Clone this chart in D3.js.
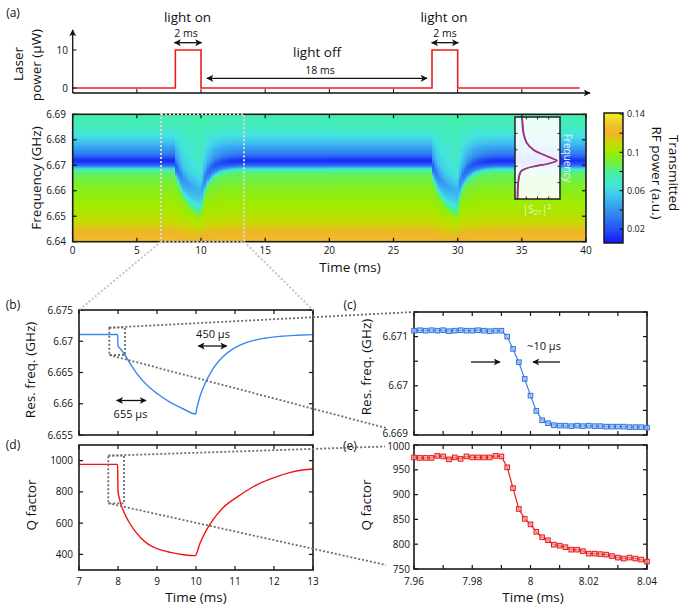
<!DOCTYPE html>
<html><head><meta charset="utf-8">
<script src="https://cdn.jsdelivr.net/npm/d3@7/dist/d3.min.js"></script>
<style>
body{margin:0;background:#fff;}
svg{display:block;font-family:"Open Sans",sans-serif;}
</style></head><body>
<svg id="chart" width="692" height="613"></svg>
<script>
// ---------------- DATA ----------------
// (a) laser pulse train
const laserTime  = [0, 8, 8, 10, 10, 28, 28, 30, 30, 39.5];
const laserPower = [0, 0, 10, 10, 0, 0, 10, 10, 0, 0];
const laserTicks = [0, 10];
const timeTicks  = [0, 5, 10, 15, 20, 25, 30, 35, 40];
const freqTicks  = [6.64, 6.65, 6.66, 6.67, 6.68, 6.69];
const freqTickLabels = ["6.64", "6.65", "6.66", "6.67", "6.68", "6.69"];

// heatmap: spectral line shape (offset in MHz from resonance -> relative dip depth)
const profOffset = [-30, -10, -7, -5, -4, -3.3, -2.7, -2, -1.3, -0.6, 0, 0.6, 1.3, 2, 3.2, 4, 5.2, 6.5, 7.8, 9, 10.4, 13, 16, 20, 40];
const profDepth  = [0, 0.03, 0.07, 0.1, 0.14, 0.32, 0.55, 0.78, 0.9, 0.97, 1, 0.96, 0.86, 0.76, 0.63, 0.56, 0.48, 0.38, 0.3, 0.24, 0.19, 0.12, 0.08, 0.05, 0];
// heatmap: off-resonance background power vs frequency
const bgFreq  = [6.64, 6.6446, 6.6498, 6.6564, 6.6629, 6.6681, 6.6721, 6.6753, 6.68, 6.685, 6.69];
const bgPower = [0.126, 0.118, 0.108, 0.101, 0.095, 0.092, 0.088, 0.084, 0.081, 0.081, 0.082];
const heatRestFreq = 6.6721;
const dipDepth = 0.077;

// colour map
const cmapValue = [0.005, 0.02, 0.04, 0.055, 0.065, 0.078, 0.09, 0.1, 0.11, 0.12, 0.128, 0.141];
const cmapColor = ["#1010ff", "#2452f4", "#3494f0", "#40c4f0", "#42e4dc", "#44f0a8", "#72f03c", "#9cec00", "#c4dc00", "#f0b428", "#f0c02a", "#eef020"];
const cbarTickLabels = [0.02, 0.06, 0.1, 0.14];
const cbarTicks = [0.02, 0.04, 0.06, 0.08, 0.1, 0.12, 0.14];

// inset |S21|^2 curve (freq fraction top->bottom, amplitude fraction)
const insetFreq = [0.0, 0.012, 0.196, 0.318, 0.4, 0.461, 0.502, 0.531, 0.563, 0.596, 0.624, 0.665, 0.767, 1.0];
const insetAmp  = [0.14, 0.15, 0.185, 0.26, 0.407, 0.63, 0.815, 0.926, 0.778, 0.48, 0.26, 0.126, 0.074, 0.052];

// (b) resonance frequency
const bTime = [7.0, 7.5, 7.99, 8.0, 8.05, 8.18, 8.31, 8.48, 8.74, 9.02, 9.34, 9.68, 9.99, 10.02, 10.1, 10.19, 10.32, 10.49, 10.71, 10.97, 11.31, 11.74, 12.17, 12.6, 13.0];
const bFreq = [6.67107, 6.67107, 6.67107, 6.66924, 6.66887, 6.6678, 6.66647, 6.66487, 6.663, 6.66156, 6.66023, 6.65916, 6.65836, 6.65927, 6.66113, 6.66263, 6.66433, 6.66609, 6.66764, 6.66887, 6.66983, 6.67047, 6.67079, 6.67096, 6.67107];
// (d) Q factor
const dTime = [7.0, 7.5, 7.99, 8.0, 8.05, 8.14, 8.27, 8.4, 8.57, 8.78, 9.02, 9.34, 9.68, 9.98, 10.1, 10.27, 10.44, 10.7, 11.04, 11.38, 11.72, 12.06, 12.4, 12.74, 13.0];
const dQ    = [976, 976, 976, 808, 743, 677, 612, 562, 510, 464, 435, 413, 398, 392, 470, 557, 623, 700, 765, 820, 864, 896, 923, 940, 946];

// (c), (e) zoomed measurements
const zTime = [7.960, 7.962, 7.964, 7.966, 7.968, 7.970, 7.972, 7.974, 7.976, 7.978, 7.980, 7.982, 7.984, 7.986, 7.988, 7.990,
               7.992, 7.994, 7.996, 7.998, 8.000, 8.002, 8.004, 8.006, 8.008, 8.010, 8.012, 8.014, 8.016, 8.018, 8.020,
               8.022, 8.024, 8.026, 8.028, 8.030, 8.032, 8.034, 8.036, 8.038, 8.040];
const cFreq = [6.67112, 6.67113, 6.67112, 6.67113, 6.67112, 6.67113, 6.67111, 6.67112, 6.67113, 6.67112, 6.67112, 6.67113, 6.67112, 6.67111, 6.67112, 6.67112,
               6.67100, 6.67075, 6.67048, 6.67014, 6.66980, 6.66949, 6.66930, 6.66924, 6.66920,
               6.66919, 6.66919, 6.66918, 6.66919, 6.66918, 6.66919, 6.66918, 6.66918, 6.66917, 6.66917, 6.66917, 6.66917, 6.66916, 6.66916, 6.66916, 6.66915];
const eQ = [975, 974, 974, 974, 978, 977, 971, 975, 972, 977, 975, 975, 975, 975, 978, 977,
            955, 913, 871, 851, 840, 825, 814, 808, 799, 797, 794, 789, 789, 786, 781, 781, 780, 779, 776, 773, 771, 773, 771, 769, 765];

// ---------------- DRAWING ----------------
const svg = d3.select("#chart");
const defs = svg.append("defs");
defs.append("marker").attr("id", "ah").attr("viewBox", "0 0 10 10").attr("refX", 9).attr("refY", 5)
  .attr("markerWidth", 7).attr("markerHeight", 7).attr("markerUnits", "userSpaceOnUse")
  .attr("orient", "auto-start-reverse")
  .append("path").attr("d", "M0,0 L10,5 L0,10 L2.5,5 Z").attr("fill", "#111");
defs.append("clipPath").attr("id", "hclip").append("rect")
  .attr("x", 72.7).attr("y", 114.3).attr("width", 586 - 72.7).attr("height", 241.7 - 114.3);

function txt(x, y, s, size, anchor, opts = {}) {
  const t = svg.append("text").attr("x", x).attr("y", y).attr("font-size", size)
    .attr("text-anchor", anchor || "middle").attr("fill", opts.fill || "#111").text(s);
  if (opts.rot) t.attr("transform", `rotate(${opts.rot},${x},${y})`);
  return t;
}
function arrow(x1, y1, x2, y2, both) {
  const l = svg.append("line").attr("x1", x1).attr("y1", y1).attr("x2", x2).attr("y2", y2)
    .attr("stroke", "#111").attr("stroke-width", 1.3).attr("marker-end", "url(#ah)");
  if (both) l.attr("marker-start", "url(#ah)");
}

// ---- (a) laser ----
const xH = d3.scaleLinear([0, 40], [72.7, 586]);
const yL = d3.scaleLinear([0, 10], [88, 50]);
svg.append("path").attr("d", d3.line().x((d, i) => xH(laserTime[i])).y(d => yL(d))(laserPower))
  .attr("fill", "none").attr("stroke", "#ee1c1c").attr("stroke-width", 1.6);
svg.append("line").attr("x1", 72.7).attr("y1", 93).attr("x2", 590).attr("y2", 93)
  .attr("stroke", "#111").attr("stroke-width", 1.3).attr("marker-end", "url(#ah)");
svg.append("line").attr("x1", 72.7).attr("y1", 93).attr("x2", 72.7).attr("y2", 30)
  .attr("stroke", "#111").attr("stroke-width", 1.3).attr("marker-end", "url(#ah)");
timeTicks.slice(1, -1).forEach(t => svg.append("line").attr("x1", xH(t)).attr("x2", xH(t)).attr("y1", 93).attr("y2", 89).attr("stroke", "#111").attr("stroke-width", 1));
laserTicks.forEach(v => {
  svg.append("line").attr("x1", 72.7).attr("x2", 76.5).attr("y1", yL(v)).attr("y2", yL(v)).attr("stroke", "#111");
  txt(68, yL(v) + 3.5, String(v), 10, "end");
});
txt(23, 64, "Laser", 13.5, "middle", {rot: -90});
txt(41, 65, "power (µW)", 13.5, "middle", {rot: -90});
txt(187.5, 21.5, "light on", 13.5);
txt(186, 37, "2 ms", 10.5);
arrow(174.5, 42.7, 201.5, 42.7, true);
txt(444, 21.5, "light on", 13.5);
txt(445, 37, "2 ms", 10.5);
arrow(431.7, 42.7, 458.3, 42.7, true);
txt(317, 57, "light off", 13.5);
txt(320, 73.5, "18 ms", 10.5);
arrow(207, 78.3, 427, 78.3, true);
txt(13, 17, "(a)", 12);

// ---- heatmap ----
const yH = d3.scaleLinear([6.64, 6.69], [241.7, 114.3]);
const cmap = d3.scaleLinear(cmapValue, cmapColor).clamp(true).interpolate(d3.interpolateRgb);
const bScale = d3.scaleLinear(bTime, bFreq).clamp(true);
const qScale = d3.scaleLinear(dTime, dQ).clamp(true);
const profScale = d3.scaleLinear(profOffset, profDepth).clamp(true);
const bgScale = d3.scaleLinear(bgFreq, bgPower).clamp(true);
const restFreq = bFreq[0], restQ = dQ[0];
const dt = 0.125, df = 0.0004;
const cells = [];
for (let t = 0; t < 40 - 1e-9; t += dt) {
  const tc = t + dt / 2;
  const tl = tc >= 20 ? tc - 20 : tc;
  const shift = bScale(tl) - restFreq;
  const Q = qScale(tl);
  const w = restQ / Q;
  const wUp = Math.pow(w, 0.7), wLow = Math.pow(w, 1.1);
  const f0 = heatRestFreq + shift;
  const depth = dipDepth * Math.sqrt(Q / restQ);
  for (let f = 6.64; f < 6.69 - 1e-9; f += df) {
    const fc = f + df / 2;
    const off = (fc - f0) * 1000;
    const xo = off >= 0 ? off / wUp : off / wLow;
    cells.push({t, f, v: bgScale(fc) - depth * profScale(xo)});
  }
}
const cw = xH(dt) - xH(0) + 0.5, ch = yH(6.64) - yH(6.64 + df) + 0.5;
svg.append("g").attr("clip-path", "url(#hclip)").selectAll("rect").data(cells).join("rect")
  .attr("x", d => xH(d.t)).attr("y", d => yH(d.f + df)).attr("width", cw).attr("height", ch)
  .attr("fill", d => cmap(d.v)).attr("shape-rendering", "crispEdges");

// frame + ticks helper
function frame(x0, x1, y0, y1, xs, ys, xt, yt, tl) {
  const g = svg.append("g");
  xt.forEach(v => {
    g.append("line").attr("x1", xs(v)).attr("x2", xs(v)).attr("y1", y1).attr("y2", y1 - tl).attr("stroke", "#111").attr("stroke-width", 1.2);
    g.append("line").attr("x1", xs(v)).attr("x2", xs(v)).attr("y1", y0).attr("y2", y0 + tl).attr("stroke", "#111").attr("stroke-width", 1.2);
  });
  yt.forEach(v => {
    g.append("line").attr("x1", x0).attr("x2", x0 + tl).attr("y1", ys(v)).attr("y2", ys(v)).attr("stroke", "#111").attr("stroke-width", 1.2);
    g.append("line").attr("x1", x1).attr("x2", x1 - tl).attr("y1", ys(v)).attr("y2", ys(v)).attr("stroke", "#111").attr("stroke-width", 1.2);
  });
  g.append("rect").attr("x", x0).attr("y", y0).attr("width", x1 - x0).attr("height", y1 - y0)
    .attr("fill", "none").attr("stroke", "#1a1a1a").attr("stroke-width", 1.6);
}
frame(72.7, 586, 114.3, 241.7, xH, yH, timeTicks, freqTicks, 4);
timeTicks.forEach(t => txt(xH(t), 254, String(t), 10));
freqTicks.forEach((f, i) => txt(66, yH(f) + 3.5, freqTickLabels[i], 10, "end"));
txt(41, 178, "Frequency (GHz)", 13.5, "middle", {rot: -90});
txt(350, 272, "Time (ms)", 13.5);

// inset
const xI = d3.scaleLinear([0, 1], [515, 560]);
const yI = d3.scaleLinear([0, 1], [117, 199]);
svg.append("rect").attr("x", 515).attr("y", 117).attr("width", 45).attr("height", 82).attr("fill", "#ffffff").attr("fill-opacity", 0.9);
const insetLine = d3.line().curve(d3.curveCatmullRom).x((d, i) => xI(insetAmp[i])).y(d => yI(d));
svg.append("path").attr("d", insetLine(insetFreq)).attr("fill", "none").attr("stroke", "#3050e0").attr("stroke-width", 1.6);
svg.append("path").attr("d", insetLine(insetFreq)).attr("fill", "none").attr("stroke", "#e8203a").attr("stroke-width", 1.1).attr("transform", "translate(0.6,0)");
[0.2, 0.4, 0.6, 0.8].forEach(v => {
  svg.append("line").attr("x1", 560).attr("x2", 557.5).attr("y1", yI(v)).attr("y2", yI(v)).attr("stroke", "#222");
  svg.append("line").attr("x1", 515).attr("x2", 517.5).attr("y1", yI(v)).attr("y2", yI(v)).attr("stroke", "#222");
});
[0.25, 0.5, 0.75].forEach(v => {
  svg.append("line").attr("x1", xI(v)).attr("x2", xI(v)).attr("y1", 199).attr("y2", 196.5).attr("stroke", "#222");
  svg.append("line").attr("x1", xI(v)).attr("x2", xI(v)).attr("y1", 117).attr("y2", 119.5).attr("stroke", "#222");
});
svg.append("rect").attr("x", 515).attr("y", 117).attr("width", 45).attr("height", 82).attr("fill", "none").attr("stroke", "#222").attr("stroke-width", 1.5);
txt(564, 158, "Frequency", 10, "middle", {rot: 90, fill: "#f4f4ff"});
const s21 = svg.append("text").attr("x", 537).attr("y", 213).attr("font-size", 10).attr("text-anchor", "middle").attr("fill", "#f6f6d0");
s21.append("tspan").text("|S");
s21.append("tspan").attr("font-size", 7).attr("dy", 2).text("21");
s21.append("tspan").attr("dy", -2).text("|");
s21.append("tspan").attr("font-size", 7).attr("dy", -4).text("2");

// colorbar
const yC = d3.scaleLinear([0.00539, 0.14104], [243, 113]);
const cbVals = d3.range(0.00539, 0.14104, 0.001);
svg.append("g").selectAll("rect").data(cbVals).join("rect")
  .attr("x", 604).attr("width", 19).attr("y", d => yC(d + 0.001)).attr("height", yC(0) - yC(0.001) + 0.4)
  .attr("fill", d => cmap(d + 0.0005)).attr("shape-rendering", "crispEdges");
cbarTicks.forEach(v => svg.append("line").attr("x1", 623).attr("x2", 619.5).attr("y1", yC(v)).attr("y2", yC(v)).attr("stroke", "#111").attr("stroke-width", 1.1));
svg.append("rect").attr("x", 604).attr("y", 113).attr("width", 19).attr("height", 130).attr("fill", "none").attr("stroke", "#1a1a1a").attr("stroke-width", 1.5);
cbarTickLabels.forEach(v => txt(627, yC(v) + 3.2, String(v), 9, "start"));
txt(669, 173, "Transmitted", 13.5, "middle", {rot: 90});
txt(652, 173, "RF power (a.u.)", 13.5, "middle", {rot: 90});

// ---- (b) ----
const xB = d3.scaleLinear([7, 13], [79, 313]);
const yB = d3.scaleLinear([6.655, 6.675], [435, 310]);
const bYT = [6.655, 6.66, 6.665, 6.67, 6.675], bYL = ["6.655", "6.66", "6.665", "6.67", "6.675"];
const xBT = [7, 8, 9, 10, 11, 12, 13];
svg.append("path").attr("d", d3.line().curve(d3.curveMonotoneX).x((d, i) => xB(bTime[i])).y(d => yB(d))(bFreq))
  .attr("fill", "none").attr("stroke", "#3a86f0").attr("stroke-width", 1.4);
frame(79, 313, 310, 435, xB, yB, xBT, bYT, 4);
bYT.forEach((v, i) => txt(73, yB(v) + 3.5, bYL[i], 10, "end"));
txt(35, 370, "Res. freq. (GHz)", 13.5, "middle", {rot: -90});
txt(213, 338, "450 µs", 11);
arrow(198.3, 346, 226.7, 346, true);
txt(130.5, 418, "655 µs", 11);
arrow(116.7, 400.5, 146, 400.5, true);
txt(13, 309, "(b)", 12);

// ---- (d) ----
const yD = d3.scaleLinear([300, 1100], [570, 445]);
const dYT = [400, 600, 800, 1000];
svg.append("path").attr("d", d3.line().curve(d3.curveMonotoneX).x((d, i) => xB(dTime[i])).y(d => yD(d))(dQ))
  .attr("fill", "none").attr("stroke", "#f01414").attr("stroke-width", 1.4);
frame(79, 313, 445, 570, xB, yD, xBT, dYT, 4);
dYT.forEach(v => txt(73, yD(v) + 3.5, String(v), 10, "end"));
xBT.forEach(v => txt(xB(v), 585, String(v), 10));
txt(36, 505, "Q factor", 13.5, "middle", {rot: -90});
txt(196, 602, "Time (ms)", 13.5);
txt(13, 449, "(d)", 12);

// ---- (c) ----
const xC = d3.scaleLinear([7.96, 8.04], [414, 647]);
const yCf = d3.scaleLinear([6.669, 6.6715], [435, 312]);
const zXT = [7.96, 7.97, 7.98, 7.99, 8.0, 8.01, 8.02, 8.03, 8.04];
const cYT = [6.669, 6.6695, 6.67, 6.6705, 6.671, 6.6715];
const cYLv = [6.669, 6.67, 6.671], cYL = ["6.669", "6.67", "6.671"];
frame(414, 647, 312, 435, xC, yCf, zXT, cYT, 4);
svg.append("path").attr("d", d3.line().x((d, i) => xC(zTime[i])).y(d => yCf(d))(cFreq))
  .attr("fill", "none").attr("stroke", "#3a80e8").attr("stroke-width", 1.2);
svg.append("g").selectAll("rect").data(cFreq).join("rect")
  .attr("x", (d, i) => xC(zTime[i]) - 2.3).attr("y", d => yCf(d) - 2.3).attr("width", 4.6).attr("height", 4.6)
  .attr("fill", "#9cc0f4").attr("fill-opacity", 0.75).attr("stroke", "#3474dc").attr("stroke-width", 1);
cYLv.forEach((v, i) => txt(408, yCf(v) + (i === 0 ? 1.5 : 3.5), cYL[i], 10, "end"));
txt(371, 367, "Res. freq. (GHz)", 13.5, "middle", {rot: -90});
txt(544, 349.5, "~10 µs", 11);
arrow(471, 362, 500, 362, false);
arrow(560, 362, 533, 362, false);
txt(350, 309, "(c)", 12);

// ---- (e) ----
const yE = d3.scaleLinear([750, 1000], [569, 445]);
const eYT = [750, 800, 850, 900, 950, 1000];
const eXL = [7.96, 7.98, 8.0, 8.02, 8.04], eXLs = ["7.96", "7.98", "8", "8.02", "8.04"];
frame(414, 647, 445, 569, xC, yE, zXT, eYT, 4);
svg.append("path").attr("d", d3.line().x((d, i) => xC(zTime[i])).y(d => yE(d))(eQ))
  .attr("fill", "none").attr("stroke", "#e81c1c").attr("stroke-width", 1.2);
svg.append("g").selectAll("rect").data(eQ).join("rect")
  .attr("x", (d, i) => xC(zTime[i]) - 2.3).attr("y", d => yE(d) - 2.3).attr("width", 4.6).attr("height", 4.6)
  .attr("fill", "#f6a0a0").attr("fill-opacity", 0.7).attr("stroke", "#e41a1a").attr("stroke-width", 1);
eYT.forEach((v, i) => txt(410, yE(v) + (i === eYT.length - 1 ? 5 : 3.5), String(v), 10, "end"));
eXL.forEach((v, i) => txt(xC(v), 585, eXLs[i], 10));
txt(371, 505, "Q factor", 13.5, "middle", {rot: -90});
txt(533, 602, "Time (ms)", 13.5);
txt(350, 450, "(e)", 12);

// ---- zoom indicators ----
function dotted(x1, y1, x2, y2, col, w) {
  svg.append("line").attr("x1", x1).attr("y1", y1).attr("x2", x2).attr("y2", y2)
    .attr("stroke", col).attr("stroke-width", w).attr("stroke-dasharray", "2,2");
}
svg.append("rect").attr("x", 161).attr("y", 114.3).attr("width", 83).attr("height", 127.4)
  .attr("fill", "none").attr("stroke", "#d8d8d8").attr("stroke-width", 2).attr("stroke-dasharray", "2,2");
dotted(161, 241.7, 79, 310, "#c6c6c6", 2);
dotted(244, 241.7, 313, 310, "#c6c6c6", 2);
svg.append("rect").attr("x", 109.3).attr("y", 327.7).attr("width", 15.7).attr("height", 27.3)
  .attr("fill", "none").attr("stroke", "#6e6e6e").attr("stroke-width", 1.8).attr("stroke-dasharray", "2,2");
dotted(109.3, 327.7, 414, 312, "#6e6e6e", 1.8);
dotted(109.3, 355, 386, 428, "#6e6e6e", 1.8);
svg.append("rect").attr("x", 108.3).attr("y", 455.7).attr("width", 15.7).attr("height", 47.6)
  .attr("fill", "none").attr("stroke", "#6e6e6e").attr("stroke-width", 1.8).attr("stroke-dasharray", "2,2");
dotted(108.3, 455.7, 385, 446.5, "#6e6e6e", 1.8);
dotted(108.3, 503.3, 386, 565, "#6e6e6e", 1.8);
</script></body></html>
